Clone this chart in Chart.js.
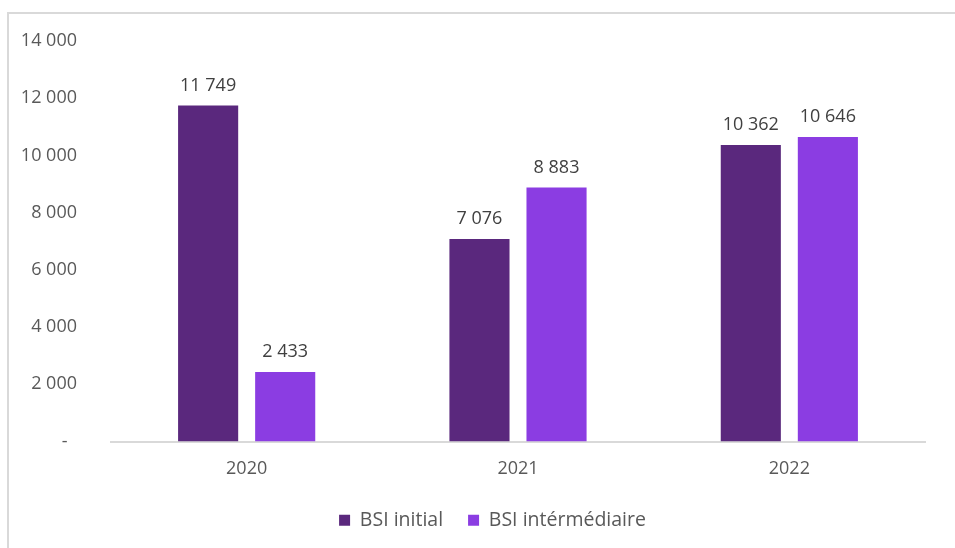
<!DOCTYPE html>
<html>
<head>
<meta charset="utf-8">
<script src="https://cdn.jsdelivr.net/npm/chart.js@4/dist/chart.umd.min.js"></script>
<style>
  html, body { margin: 0; padding: 0; background: #fff; overflow: hidden; }
  #frame { position: absolute; left: 7px; top: 12px; width: 1000px; height: 600px;
           border-left: 2px solid #d9d9d9; border-top: 2px solid #d9d9d9; }
  #wrap { position: absolute; left: 0; top: 0; width: 984px; height: 548px; }
</style>
</head>
<body>
<div id="frame"></div>
<div id="wrap"><canvas id="chart"></canvas></div>
<script>
const years = ['2020', '2021', '2022'];
const bsiInitial = [11749, 7076, 10362];
const bsiInter = [2433, 8883, 10646];
const yTicks = [0, 2000, 4000, 6000, 8000, 10000, 12000, 14000];

function fmt(n) {
    return n.toString().replace(/\B(?=(\d{3})+(?!\d))/g, ' ');
}

// draws the value above each bar
const barLabels = {
    id: 'barLabels',
    afterDatasetsDraw(chart) {
        const ctx = chart.ctx;
        ctx.save();
        ctx.font = '18px "Open Sans"';
        ctx.fillStyle = '#404040';
        ctx.textAlign = 'center';
        ctx.textBaseline = 'bottom';
        chart.data.datasets.forEach((ds, i) => {
            chart.getDatasetMeta(i).data.forEach((bar, j) => {
                ctx.fillText(fmt(ds.data[j]), bar.x, bar.y - 11);
            });
        });
        ctx.restore();
    }
};

// legend in the original sits a bit right of the plot centre
const legendShift = {
    id: 'legendShift',
    afterLayout(chart) {
        chart.legend.left += 30;
        chart.legend.right += 30;
    }
};

window.addEventListener('load', () => {
    new Chart(document.getElementById('chart'), {
        type: 'bar',
        data: {
            labels: years,
            datasets: [
                { label: 'BSI initial', data: bsiInitial, backgroundColor: '#5a287d' },
                { label: 'BSI intérmédiaire', data: bsiInter, backgroundColor: '#8b3de2' }
            ]
        },
        options: {
            responsive: true,
            maintainAspectRatio: false,
            animation: false,
            categoryPercentage: 0.568,
            barPercentage: 0.78,
            layout: { padding: { top: 41, right: 59, bottom: 8, left: 0 } },
            plugins: {
                tooltip: { enabled: false },
                legend: {
                    position: 'bottom',
                    labels: {
                        font: { family: 'Open Sans', size: 19.5 },
                        color: '#595959',
                        boxWidth: 11,
                        boxHeight: 11,
                        padding: 25
                    }
                }
            },
            scales: {
                x: {
                    grid: { display: false },
                    border: { display: true, color: '#d9d9d9', width: 2 },
                    ticks: { font: { family: 'Open Sans', size: 18 }, color: '#595959', padding: 9 },
                    afterFit: (s) => { s.height = 44; }
                },
                y: {
                    min: 0,
                    max: 14000,
                    grid: { display: false },
                    border: { display: false },
                    afterBuildTicks: (s) => { s.ticks = yTicks.map(v => ({ value: v })); },
                    ticks: {
                        font: { family: 'Open Sans', size: 18 },
                        color: '#595959',
                        padding: 26,
                        callback: (v) => v === 0 ? '-  ' : fmt(v)
                    },
                    afterFit: (s) => { s.width = 111; }
                }
            }
        },
        plugins: [barLabels, legendShift]
    });
});
</script>
</body>
</html>
